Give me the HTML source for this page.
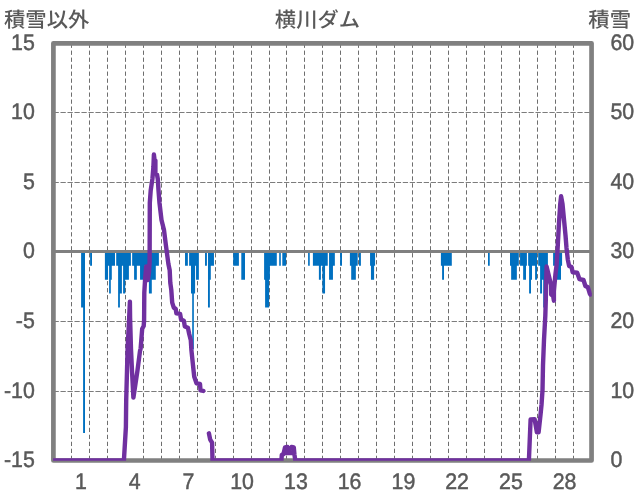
<!DOCTYPE html>
<html lang="ja"><head><meta charset="utf-8"><title>横川ダム</title>
<style>
html,body{margin:0;padding:0;background:#fff;}
body{width:636px;height:501px;overflow:hidden;}
svg{display:block;}
text{font-family:"Liberation Sans","Noto Sans CJK JP",sans-serif;font-size:21.33px;fill:#595959;text-rendering:geometricPrecision;}
text.j{font-weight:500;}
text.n{stroke:#595959;stroke-width:0.45px;}
</style></head><body>
<svg width="636" height="501" viewBox="0 0 636 501">
<rect width="636" height="501" fill="#fff"/>
<defs><clipPath id="pc"><rect x="53.1" y="40.95" width="538.75" height="419.74999999999994"/></clipPath></defs>

<g stroke="#6e6e6e" stroke-width="1" stroke-dasharray="4.3 2.685" fill="none" shape-rendering="auto">
<line x1="71.5" y1="43.6" x2="71.5" y2="460.5"/>
<line x1="89.5" y1="43.6" x2="89.5" y2="460.5"/>
<line x1="107.5" y1="43.6" x2="107.5" y2="460.5"/>
<line x1="125.5" y1="43.6" x2="125.5" y2="460.5"/>
<line x1="143.5" y1="43.6" x2="143.5" y2="460.5"/>
<line x1="161.5" y1="43.6" x2="161.5" y2="460.5"/>
<line x1="179.5" y1="43.6" x2="179.5" y2="460.5"/>
<line x1="197.5" y1="43.6" x2="197.5" y2="460.5"/>
<line x1="215.5" y1="43.6" x2="215.5" y2="460.5"/>
<line x1="233.5" y1="43.6" x2="233.5" y2="460.5"/>
<line x1="251.5" y1="43.6" x2="251.5" y2="460.5"/>
<line x1="269.5" y1="43.6" x2="269.5" y2="460.5"/>
<line x1="286.5" y1="43.6" x2="286.5" y2="460.5"/>
<line x1="304.5" y1="43.6" x2="304.5" y2="460.5"/>
<line x1="322.5" y1="43.6" x2="322.5" y2="460.5"/>
<line x1="340.5" y1="43.6" x2="340.5" y2="460.5"/>
<line x1="358.5" y1="43.6" x2="358.5" y2="460.5"/>
<line x1="376.5" y1="43.6" x2="376.5" y2="460.5"/>
<line x1="394.5" y1="43.6" x2="394.5" y2="460.5"/>
<line x1="412.5" y1="43.6" x2="412.5" y2="460.5"/>
<line x1="430.5" y1="43.6" x2="430.5" y2="460.5"/>
<line x1="448.5" y1="43.6" x2="448.5" y2="460.5"/>
<line x1="466.5" y1="43.6" x2="466.5" y2="460.5"/>
<line x1="484.5" y1="43.6" x2="484.5" y2="460.5"/>
<line x1="501.5" y1="43.6" x2="501.5" y2="460.5"/>
<line x1="519.5" y1="43.6" x2="519.5" y2="460.5"/>
<line x1="537.5" y1="43.6" x2="537.5" y2="460.5"/>
<line x1="555.5" y1="43.6" x2="555.5" y2="460.5"/>
<line x1="573.5" y1="43.6" x2="573.5" y2="460.5"/>
<line x1="53.5" y1="112.5" x2="591.55" y2="112.5" stroke-dasharray="5.3 1.685" stroke="#7c7c7c"/>
<line x1="53.5" y1="182.5" x2="591.55" y2="182.5" stroke-dasharray="5.3 1.685" stroke="#7c7c7c"/>
<line x1="53.5" y1="321.5" x2="591.55" y2="321.5" stroke-dasharray="5.3 1.685" stroke="#7c7c7c"/>
<line x1="53.5" y1="391.5" x2="591.55" y2="391.5" stroke-dasharray="5.3 1.685" stroke="#7c7c7c"/>
</g>
<path fill="#0070C0" d="M81.10,251.75V307.55H83.10V433.10H85.00V251.75ZM90.10,251.75V265.70H92.00V251.75ZM104.90,251.75V279.65H108.05V265.70H109.10V293.60H110.80V279.65H111.80V265.70H115.00V251.75ZM116.20,251.75V265.70H118.10V307.55H119.90V293.60H121.90V265.70H123.10V293.60H125.20V279.65H128.90V265.70H130.90V251.75ZM132.15,251.75V265.70H134.10V279.65H136.85V265.70H140.05V279.65H144.60V265.70H148.90V293.60H151.80V279.65H155.80V265.70H158.90V251.75ZM185.03,251.75V265.70H187.86V251.75ZM189.12,251.75V265.70H191.00V293.60H192.20V349.40H193.84V293.60H195.10V265.70H196.04V279.65H198.87V251.75ZM205.03,251.75V265.70H206.92V251.75ZM207.99,251.75V307.55H209.87V279.65H210.80V265.70H213.96V251.75ZM233.20,251.75V265.70H238.90V251.75ZM241.30,251.75V279.65H245.00V251.75ZM264.10,251.75V279.65H265.10V307.55H269.10V279.65H269.90V265.70H276.80V251.75ZM279.20,251.75V265.70H280.80V251.75ZM282.30,251.75V265.70H286.10V251.75ZM308.10,251.75V265.70H309.75V251.75ZM312.90,251.75V265.70H318.90V279.65H320.90V265.70H322.40V293.60H325.05V265.70H327.75V251.75ZM329.05,251.75V279.65H332.95V265.70H334.85V251.75ZM340.10,251.75V265.70H342.00V251.75ZM349.90,251.75V265.70H351.20V279.65H355.85V265.70H357.70V251.75ZM359.00,251.75V265.70H360.90V251.75ZM370.05,251.75V265.70H370.95V279.65H374.10V265.70H375.10V251.75ZM440.90,251.75V265.70H442.10V279.65H444.00V265.70H451.80V251.75ZM488.00,251.75V265.70H489.75V251.75ZM510.00,251.75V265.70H511.15V279.65H516.85V265.70H518.80V251.75ZM520.06,251.75V265.70H523.15V279.65H526.00V265.70H526.90V251.75ZM528.15,251.75V265.70H529.10V293.60H531.00V279.65H532.00V265.70H535.10V279.65H537.00V251.75ZM538.20,251.75V265.70H540.10V293.60H542.05V279.65H543.20V307.55H545.20V279.65H546.50V265.70H547.90V251.75ZM553.10,251.75V265.70H556.50V279.65H561.00V265.70H562.10V251.75Z"/>
<line x1="53.4" y1="251.5" x2="591.55" y2="251.5" stroke="#808080" stroke-width="3"/>
<rect x="53.4" y="43.35" width="538.15" height="417.15" fill="none" stroke="#808080" stroke-width="4.7" stroke-linejoin="round"/>
<g clip-path="url(#pc)" fill="none" stroke="#7030A0" stroke-width="4.4" stroke-linejoin="round" stroke-linecap="round">
<polyline points="53.40,460.50 123.90,460.50 125.90,427.00 126.20,400.00 127.00,371.00 127.60,349.00 129.15,318.00 129.90,301.70 130.10,318.00 131.00,349.00 132.00,371.00 133.40,397.60 137.40,371.00 140.00,351.00 140.65,348.50 142.20,328.70 143.70,326.00 144.10,320.00 144.30,292.60 145.00,281.00 146.20,266.50 147.90,280.00 149.00,272.00 149.60,262.00 149.65,251.00 149.80,203.00 150.70,190.30 152.40,179.00 153.40,167.00 153.90,154.50 154.50,159.50 155.40,160.50 155.40,173.00 157.00,174.50 157.80,179.00 158.50,190.30 159.50,203.00 161.50,220.00 164.00,230.00 165.90,245.20 168.40,264.00 169.70,270.30 170.30,282.90 171.30,290.00 172.20,302.60 173.80,307.60 175.70,308.90 176.40,313.30 180.10,313.90 181.10,319.60 183.90,320.80 184.80,326.50 187.90,327.70 189.20,334.00 190.80,340.30 191.40,350.00 193.00,365.20 194.20,376.50 196.50,383.40 200.00,384.00 200.50,390.30 203.40,390.90"/>
<polyline points="208.90,433.30 210.20,439.60 212.10,442.70 212.50,460.50 281.40,460.50 281.80,455.00 283.50,454.00 285.00,447.50 287.50,447.00 289.20,451.00 291.50,447.00 293.80,447.50 294.50,455.00 295.30,460.50 528.90,460.50 530.60,419.50 534.60,419.10 536.90,432.30 538.60,432.30 540.60,414.00 541.50,405.00 542.50,390.30 543.00,365.20 544.00,340.00 545.30,316.00 545.80,300.00 546.00,288.00 546.60,266.40 550.10,281.00 551.10,285.00 551.20,294.50 553.10,296.00 553.90,300.70 553.90,291.00 555.40,274.60 556.60,265.10 557.70,247.00 559.00,222.70 560.25,203.90 561.10,196.30 562.50,203.90 564.30,222.70 565.50,235.30 566.50,247.90 567.80,259.60 569.10,265.90 571.60,267.10 572.60,272.20 577.20,272.80 579.40,279.10 583.50,280.00 585.40,286.00 587.90,287.30 589.80,293.50 590.40,294.50"/>
<polyline points="284.5,453 293.3,453"/>
</g>
<text transform="translate(4,26.7) scale(1,0.975)" class="j">積雪以外</text>
<text transform="translate(317.5,26.7) scale(1,0.975)" text-anchor="middle" class="j">横川ダム</text>
<text transform="translate(631,26.7) scale(1,0.975)" text-anchor="end" class="j">積雪</text>
<text transform="translate(34.8,49.9) scale(1,1.05)" text-anchor="end" class="n">15</text>
<text transform="translate(34.8,119.4) scale(1,1.05)" text-anchor="end" class="n">10</text>
<text transform="translate(34.8,188.9) scale(1,1.05)" text-anchor="end" class="n">5</text>
<text transform="translate(34.8,258.4) scale(1,1.05)" text-anchor="end" class="n">0</text>
<text transform="translate(34.8,327.9) scale(1,1.05)" text-anchor="end" class="n">-5</text>
<text transform="translate(34.8,397.5) scale(1,1.05)" text-anchor="end" class="n">-10</text>
<text transform="translate(34.8,467.0) scale(1,1.05)" text-anchor="end" class="n">-15</text>
<text transform="translate(610.5,49.9) scale(1,1.05)" class="n">60</text>
<text transform="translate(610.5,119.4) scale(1,1.05)" class="n">50</text>
<text transform="translate(610.5,188.9) scale(1,1.05)" class="n">40</text>
<text transform="translate(610.5,258.4) scale(1,1.05)" class="n">30</text>
<text transform="translate(610.5,327.9) scale(1,1.05)" class="n">20</text>
<text transform="translate(610.5,397.5) scale(1,1.05)" class="n">10</text>
<text transform="translate(610.5,467.0) scale(1,1.05)" class="n">0</text>
<text transform="translate(80.9,489) scale(1,1.05)" text-anchor="middle" class="n">1</text>
<text transform="translate(134.6,489) scale(1,1.05)" text-anchor="middle" class="n">4</text>
<text transform="translate(188.4,489) scale(1,1.05)" text-anchor="middle" class="n">7</text>
<text transform="translate(242.1,489) scale(1,1.05)" text-anchor="middle" class="n">10</text>
<text transform="translate(295.9,489) scale(1,1.05)" text-anchor="middle" class="n">13</text>
<text transform="translate(349.6,489) scale(1,1.05)" text-anchor="middle" class="n">16</text>
<text transform="translate(403.4,489) scale(1,1.05)" text-anchor="middle" class="n">19</text>
<text transform="translate(457.1,489) scale(1,1.05)" text-anchor="middle" class="n">22</text>
<text transform="translate(510.9,489) scale(1,1.05)" text-anchor="middle" class="n">25</text>
<text transform="translate(564.6,489) scale(1,1.05)" text-anchor="middle" class="n">28</text>
</svg></body></html>
